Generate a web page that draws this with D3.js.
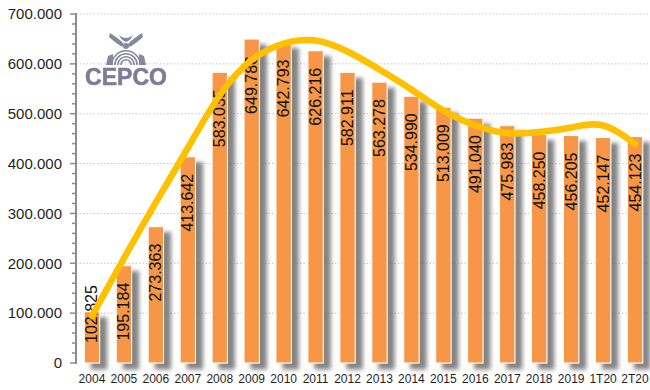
<!DOCTYPE html>
<html>
<head>
<meta charset="utf-8">
<script src="https://cdn.jsdelivr.net/npm/d3@7/dist/d3.min.js"></script>
<style>
  html, body { margin: 0; padding: 0; background: #ffffff; }
  svg { display: block; }
  text { font-family: "Liberation Sans", Arial, sans-serif; }
</style>
</head>
<body>
<svg id="chart" width="650" height="390"></svg>
<script>
// Yearly totals (plus the two 2020 quarters)
const categories = ["2004","2005","2006","2007","2008","2009","2010","2011","2012",
                    "2013","2014","2015","2016","2017","2018","2019","1T20","2T20"];
const values = [102825, 195184, 273363, 413642, 583035, 649786, 642793, 626216, 582911,
                563278, 534990, 513009, 491040, 475983, 458250, 456205, 452147, 454123];
// Smoothed trend drawn over the bars
const trend = [94300, 210000, 322000, 431200, 537000, 607700, 640800, 646900, 624800,
               588700, 548600, 506400, 476400, 461300, 463300, 472400, 476400, 439300];
const yTicks = [0, 100000, 200000, 300000, 400000, 500000, 600000, 700000];
const logoText = "CEPCO";

const svg = d3.select("#chart");
const plot = { left: 76, right: 651, top: 14, bottom: 363 };

const locale = d3.formatLocale({ decimal: ",", thousands: ".", grouping: [3], currency: ["", ""] });
const fmt = locale.format(",.0f");

const x = d3.scaleBand()
  .domain(categories)
  .range([plot.left, plot.right])
  .paddingInner(0.52)
  .paddingOuter(0.26);

const y = d3.scaleLinear()
  .domain([0, 700000])
  .range([plot.bottom, plot.top]);

// Filters: soft drop shadow for bars and the baseline
const defs = svg.append("defs");
const sh = defs.append("filter").attr("id", "barShadow")
  .attr("x", "-30%").attr("y", "-10%").attr("width", "220%").attr("height", "130%");
sh.append("feGaussianBlur").attr("in", "SourceAlpha").attr("stdDeviation", 2.2);
sh.append("feOffset").attr("dx", 7).attr("dy", 6).attr("result", "ob");
sh.append("feFlood").attr("flood-color", "#6e6e6e").attr("flood-opacity", 0.85);
sh.append("feComposite").attr("in2", "ob").attr("operator", "in");
const m = sh.append("feMerge");
m.append("feMergeNode");
m.append("feMergeNode").attr("in", "SourceGraphic");

const lsh = defs.append("filter").attr("id", "lineShadow")
  .attr("x", "-5%").attr("y", "-200%").attr("width", "110%").attr("height", "500%");
lsh.append("feGaussianBlur").attr("in", "SourceAlpha").attr("stdDeviation", 1.2);
lsh.append("feOffset").attr("dx", 2).attr("dy", 3).attr("result", "ob");
lsh.append("feFlood").attr("flood-color", "#808080").attr("flood-opacity", 0.7);
lsh.append("feComposite").attr("in2", "ob").attr("operator", "in");
const m2 = lsh.append("feMerge");
m2.append("feMergeNode");
m2.append("feMergeNode").attr("in", "SourceGraphic");

// Dotted gridlines
svg.append("g")
  .selectAll("line")
  .data(yTicks.filter(d => d > 0))
  .join("line")
  .attr("x1", plot.left).attr("x2", plot.right)
  .attr("y1", d => y(d)).attr("y2", d => y(d))
  .attr("stroke", "#c4c4c4")
  .attr("stroke-width", 1)
  .attr("stroke-dasharray", "1.5,2");

// Logo
const logo = svg.append("g").attr("fill", "#7b7b93").attr("opacity", 0.9);
logo.append("path")
  .attr("d", "M110,33 C114,36 118,38 121,41 L124,44 L122,47 C118,44 113,41 109,37 Z");
logo.append("path")
  .attr("d", "M142,33 C138,36 134,38 131,41 L128,44 L130,47 C134,44 139,41 143,37 Z");
logo.append("path")
  .attr("d", "M119,35 C121,39 123,41 126,42 C129,41 131,39 133,35 C131,37 128,38 126,38 C124,38 121,37 119,35 Z");
logo.append("circle").attr("cx", 126).attr("cy", 46).attr("r", 3);
[15, 12, 9, 6].forEach((r, i) => {
  logo.append("path")
    .attr("d", d3.arc()({ innerRadius: r - 1.6, outerRadius: r, startAngle: -Math.PI / 2, endAngle: Math.PI / 2 }))
    .attr("transform", "translate(126,65)");
});
logo.append("path").attr("d", "M108,56 L113,54 L113,65 L106,65 Z");
logo.append("path").attr("d", "M144,56 L139,54 L139,65 L146,65 Z");
logo.append("text")
  .attr("x", 126).attr("y", 85)
  .attr("text-anchor", "middle")
  .attr("font-size", 23)
  .attr("font-weight", "bold")
  .attr("fill", "#6f6f8c")
  .attr("stroke", "#6f6f8c").attr("stroke-width", 0.6)
  .text(logoText);

// Bars
svg.append("g")
  .selectAll("rect")
  .data(values)
  .join("rect")
  .attr("x", (d, i) => x(categories[i]))
  .attr("y", d => y(d))
  .attr("width", x.bandwidth())
  .attr("height", d => y(0) - y(d))
  .attr("fill", "#F79646")
  .attr("stroke", "#ffffff")
  .attr("stroke-width", 1)
  .attr("filter", "url(#barShadow)");

// Baseline with shadow
svg.append("line")
  .attr("x1", plot.left).attr("x2", plot.right)
  .attr("y1", y(0)).attr("y2", y(0))
  .attr("stroke", "#9a9a9a").attr("stroke-width", 2)
  .attr("filter", "url(#lineShadow)");

// Y axis
const yAxisG = svg.append("g");
yAxisG.append("line")
  .attr("x1", plot.left).attr("x2", plot.left)
  .attr("y1", plot.top - 1).attr("y2", plot.bottom + 1)
  .attr("stroke", "#8c8c8c").attr("stroke-width", 2);
const minor = d3.range(0, 700001, 20000);
yAxisG.selectAll("line.minor")
  .data(minor)
  .join("line")
  .attr("class", "minor")
  .attr("x1", d => (d % 100000 === 0 ? plot.left - 6 : plot.left - 4))
  .attr("x2", plot.left)
  .attr("y1", d => y(d)).attr("y2", d => y(d))
  .attr("stroke", "#8c8c8c").attr("stroke-width", 1.5);
yAxisG.selectAll("text")
  .data(yTicks)
  .join("text")
  .attr("x", 62)
  .attr("y", d => y(d))
  .attr("dy", "0.35em")
  .attr("text-anchor", "end")
  .attr("font-size", 15)
  .attr("fill", "#1f1f1f")
  .text(d => fmt(d));

// X labels
svg.append("g")
  .selectAll("text")
  .data(categories)
  .join("text")
  .attr("x", d => x(d) + x.bandwidth() / 2)
  .attr("y", 383)
  .attr("text-anchor", "middle")
  .attr("font-size", 12)
  .attr("fill", "#1f1f1f")
  .text(d => d);

// Value labels, rotated, inside the bars
const labelG = svg.append("g");
values.forEach((v, i) => {
  const cx = x(categories[i]) + x.bandwidth() / 2;
  const t = labelG.append("text")
    .attr("font-size", 16)
    .attr("fill", "#111")
    .attr("text-anchor", "start")
    .attr("dominant-baseline", "central")
    .text(fmt(v));
  const len = t.node().getComputedTextLength();
  const start = Math.min(y(v) + 17 + len, 343);
  t.attr("transform", `translate(${cx},${start}) rotate(-90)`);
});

// Trend curve
const line = d3.line()
  .x((d, i) => x(categories[i]) + x.bandwidth() / 2)
  .y(d => y(d))
  .curve(d3.curveNatural);
svg.append("path")
  .datum(trend)
  .attr("d", line)
  .attr("fill", "none")
  .attr("stroke", "#FFC000")
  .attr("stroke-width", 6.5)
  .attr("stroke-linecap", "round")
  .attr("stroke-linejoin", "round");
</script>
</body>
</html>
